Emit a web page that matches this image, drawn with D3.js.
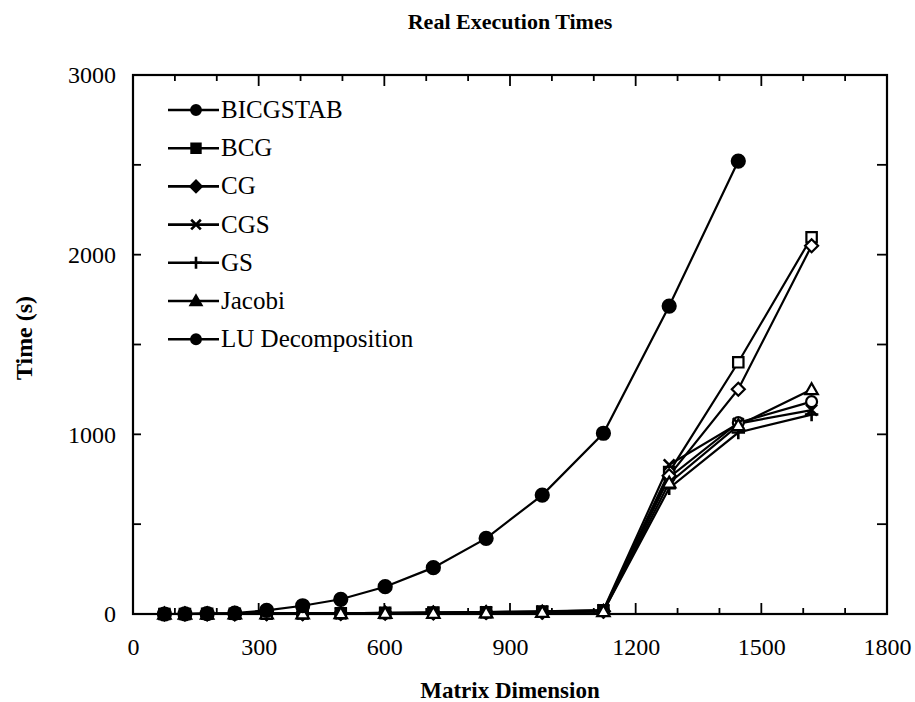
<!DOCTYPE html>
<html><head><meta charset="utf-8">
<script src="https://cdn.jsdelivr.net/npm/d3@7"></script>
<style>
html,body{margin:0;padding:0;background:#fff;}
svg{display:block;}
svg text{font-family:"Liberation Serif","Times New Roman",Times,"DejaVu Serif",serif !important;}
</style></head>
<body><svg id="c" width="915" height="702"></svg>
<script>
// ---- data ----
const dims = [75,124,177,243,319,405,496,602,717,843,977,1123,1280,1445,1620];
const seriesNames = ["BICGSTAB","BCG","CG","CGS","GS","Jacobi","LU Decomposition"];
const bicgstab = [0,0,1,1,2,3,4,5,7,9,12,18,760,1065,1182];
const bcg      = [0,0,1,1,2,3,4,6,8,10,14,20,790,1401,2097];
const cg       = [0,0,1,1,2,2,3,4,6,8,10,15,770,1251,2050];
const cgs      = [0,0,1,1,2,3,4,6,8,11,15,22,830,1060,1135];
const gs       = [0,0,0,1,1,2,3,4,5,7,9,14,700,1010,1110];
const jacobi   = [0,0,0,1,1,2,3,4,5,7,10,14,730,1050,1250];
const lu       = [0,1,2,5,20,46,82,152,258,421,662,1006,1714,2521];
const xTicks = [0,300,600,900,1200,1500,1800];
const yTicks = [0,1000,2000,3000];
const title = "Real Execution Times";
const xLabel = "Matrix Dimension";
const yLabel = "Time (s)";

const seriesValues = [bicgstab,bcg,cg,cgs,gs,jacobi,lu];
const markers = ["ocircle","square","diamond","xmark","plus","triangle","fcircle"];
const FONT = "Liberation Serif, Times New Roman, DejaVu Serif, serif";

// ---- layout ----
const svg = d3.select("#c");
const L=133, R=887, T=75, B=614;
const x = d3.scaleLinear().domain([0,1800]).range([L,R]);
const y = d3.scaleLinear().domain([0,3000]).range([B,T]);

function markerPath(type, s){
  const p = d3.path();
  if(type==="square"){ p.rect(-s,-s,2*s,2*s); }
  else if(type==="diamond"){ const d=s*1.25; p.moveTo(0,-d);p.lineTo(d,0);p.lineTo(0,d);p.lineTo(-d,0);p.closePath(); }
  else if(type==="triangle"){ const h=s*1.2; p.moveTo(0,-h);p.lineTo(h,h*0.75);p.lineTo(-h,h*0.75);p.closePath(); }
  else if(type==="xmark"){ const d=s*1.05; p.moveTo(-d,-d);p.lineTo(d,d);p.moveTo(d,-d);p.lineTo(-d,d); }
  else if(type==="plus"){ const d=s*1.3; p.moveTo(-d,0);p.lineTo(d,0);p.moveTo(0,-d);p.lineTo(0,d); }
  else { p.arc(0,0,s*1.05,0,2*Math.PI); }
  return p.toString();
}
function drawMarker(g, type, cx, cy, s, legend){
  const filled = type==="fcircle" || legend;
  g.append("path").attr("d", markerPath(type, s))
    .attr("transform",`translate(${cx},${cy})`)
    .attr("fill", (type==="xmark"||type==="plus") ? "none" : (filled ? "#000" : "#fff"))
    .attr("stroke","#000").attr("stroke-width", (type==="xmark"||type==="plus") ? 2.6 : 2.2);
}

// ---- frame & ticks ----
const gAxes = svg.append("g");
d3.range(0,1801,100).forEach(v=>{
  const len = v%300===0?11:6;
  gAxes.append("line").attr("x1",x(v)).attr("x2",x(v)).attr("y1",B).attr("y2",B-len).attr("stroke","#000").attr("stroke-width",1.8);
  gAxes.append("line").attr("x1",x(v)).attr("x2",x(v)).attr("y1",T).attr("y2",T+len).attr("stroke","#000").attr("stroke-width",1.8);
});
d3.range(0,3001,500).forEach(v=>{
  gAxes.append("line").attr("x1",L).attr("x2",L+8).attr("y1",y(v)).attr("y2",y(v)).attr("stroke","#000").attr("stroke-width",1.8);
  gAxes.append("line").attr("x1",R).attr("x2",R-10).attr("y1",y(v)).attr("y2",y(v)).attr("stroke","#000").attr("stroke-width",1.8);
});
gAxes.append("rect").attr("x",L).attr("y",T).attr("width",R-L).attr("height",B-T)
  .attr("fill","none").attr("stroke","#000").attr("stroke-width",2.2);

const xAxis = svg.append("g").attr("transform",`translate(0,${B})`)
  .call(d3.axisBottom(x).tickValues(xTicks).tickSize(0).tickPadding(36).tickFormat(d3.format("d")));
const yAxis = svg.append("g").attr("transform",`translate(${L},0)`)
  .call(d3.axisLeft(y).tickValues(yTicks).tickSize(0).tickPadding(17).tickFormat(d3.format("d")));
[xAxis,yAxis].forEach(a=>{
  a.select(".domain").remove();
  a.attr("font-family",FONT);
  a.selectAll("text").attr("font-family",FONT).attr("font-size",24).attr("fill","#000");
});
xAxis.selectAll("text").attr("dy",0).attr("y",41);

// ---- series ----
const line = d3.line().x(d=>x(d[0])).y(d=>y(d[1]));
const gS = svg.append("g");
seriesValues.forEach((vals)=>{
  const pts = vals.map((v,j)=>[dims[j],v]);
  gS.append("path").attr("d",line(pts)).attr("fill","none").attr("stroke","#000").attr("stroke-width",2.2);
});
seriesValues.forEach((vals,i)=>{
  vals.forEach((v,j)=>{
    drawMarker(gS, markers[i], x(dims[j]), y(v), markers[i]==="fcircle"?6.2:5.2, false);
  });
});

// ---- legend ----
const gL = svg.append("g");
seriesNames.forEach((n,i)=>{
  const cy = 110 + i*38.2;
  gL.append("line").attr("x1",168).attr("x2",219).attr("y1",cy).attr("y2",cy).attr("stroke","#000").attr("stroke-width",2.6);
  drawMarker(gL, markers[i], 196, cy, 4.6, true);
  gL.append("text").attr("x",221).attr("y",cy+8).attr("font-family",FONT).attr("font-size",25).attr("fill","#000").text(n);
});

// ---- titles ----
svg.append("text").attr("x",510).attr("y",29).attr("text-anchor","middle").attr("font-family",FONT)
  .attr("font-size",22).attr("font-weight","bold").text(title);
svg.append("text").attr("x",510).attr("y",698).attr("text-anchor","middle").attr("font-family",FONT)
  .attr("font-size",23).attr("font-weight","bold").text(xLabel);
svg.append("text").attr("transform","translate(32,338) rotate(-90)").attr("text-anchor","middle").attr("font-family",FONT)
  .attr("font-size",24).attr("font-weight","bold").text(yLabel);
</script></body></html>
